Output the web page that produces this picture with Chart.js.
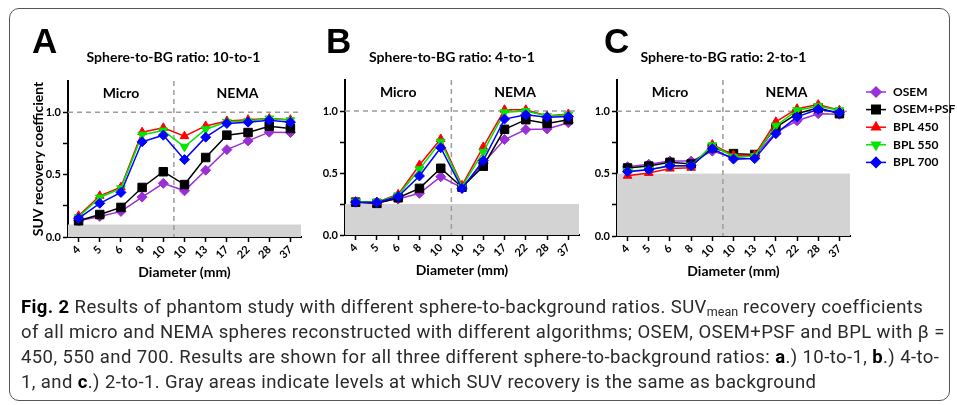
<!DOCTYPE html>
<html>
<head>
<meta charset="utf-8">
<script src="https://cdn.jsdelivr.net/npm/chart.js@4.4.0/dist/chart.umd.min.js"></script>
<style>
  body { margin: 0; background: #fff; width: 957px; height: 405px; overflow: hidden; position: relative; }
  #frame { position: absolute; left: 9px; top: 8px; width: 941px; height: 393px; border: 1.5px solid #555; border-radius: 10px; box-sizing: border-box; }
  canvas.panel { position: absolute; left: 0; top: 0; }
  #caption { position: absolute; left: 21px; top: 295px; font-family: Roboto, 'DejaVu Sans Condensed', sans-serif; font-size: 18.5px; letter-spacing: 0.4px; line-height: 25px; color: #2a2a2a; white-space: nowrap; }
  #caption b { color: #000; }
  #caption sub { font-size: 12.5px; vertical-align: -3px; line-height: 0; letter-spacing: 0; }
</style>
</head>
<body>
<div id="frame"></div>
<canvas id="chartA" class="panel" width="957" height="290"></canvas>
<canvas id="chartB" class="panel" width="957" height="290"></canvas>
<canvas id="chartC" class="panel" width="957" height="290"></canvas>
<div id="caption">
<b>Fig. 2</b> Results of phantom study with different sphere-to-background ratios. SUV<sub>mean</sub> recovery coefficients<br>
of all micro and NEMA spheres reconstructed with different algorithms; OSEM, OSEM+PSF and BPL with β =<br>
450, 550 and 700. Results are shown for all three different sphere-to-background ratios: <b>a</b>.) 10-to-1, <b>b</b>.) 4-to-<br>
1, and <b>c</b>.) 2-to-1. Gray areas indicate levels at which SUV recovery is the same as background
</div>

<script>
// sphere diameters (first five = micro, last six = NEMA)
const diameters = ['4', '5', '6', '8', '10', '10', '13', '17', '22', '28', '37'];
const seriesNames = ['OSEM', 'OSEM+PSF', 'BPL 450', 'BPL 550', 'BPL 700'];

// panel A: 10-to-1
const osemA    = [0.13, 0.165, 0.205, 0.32, 0.43, 0.37, 0.535, 0.70, 0.77, 0.84, 0.837];
const psfA     = [0.13, 0.18, 0.237, 0.397, 0.523, 0.42, 0.637, 0.816, 0.837, 0.888, 0.87];
const bpl450A  = [0.17, 0.33, 0.40, 0.84, 0.875, 0.808, 0.89, 0.93, 0.94, 0.95, 0.94];
const bpl550A  = [0.16, 0.317, 0.39, 0.82, 0.853, 0.723, 0.864, 0.923, 0.93, 0.95, 0.936];
const bpl700A  = [0.15, 0.27, 0.357, 0.763, 0.816, 0.62, 0.80, 0.91, 0.92, 0.936, 0.92];

// panel B: 4-to-1
const osemB    = [0.265, 0.265, 0.29, 0.336, 0.47, 0.38, 0.58, 0.77, 0.85, 0.855, 0.905];
const psfB     = [0.265, 0.255, 0.30, 0.376, 0.538, 0.385, 0.555, 0.852, 0.93, 0.90, 0.93];
const bpl450B  = [0.27, 0.265, 0.328, 0.565, 0.774, 0.40, 0.71, 1.01, 1.01, 0.96, 0.976];
const bpl550B  = [0.27, 0.265, 0.32, 0.53, 0.753, 0.39, 0.67, 0.99, 1.0, 0.96, 0.97];
const bpl700B  = [0.265, 0.262, 0.31, 0.476, 0.704, 0.375, 0.60, 0.935, 0.97, 0.95, 0.955];

// panel C: 2-to-1
const osemC    = [0.555, 0.575, 0.60, 0.60, 0.68, 0.627, 0.643, 0.83, 0.923, 0.98, 0.976];
const psfC     = [0.545, 0.56, 0.59, 0.577, 0.707, 0.66, 0.653, 0.87, 0.98, 1.027, 0.98];
const bpl450C  = [0.483, 0.505, 0.54, 0.547, 0.733, 0.648, 0.648, 0.915, 1.02, 1.053, 1.008];
const bpl550C  = [0.52, 0.53, 0.56, 0.563, 0.727, 0.635, 0.64, 0.883, 1.008, 1.04, 1.008];
const bpl700C  = [0.515, 0.53, 0.563, 0.563, 0.70, 0.616, 0.62, 0.82, 0.955, 1.016, 0.99];

// background levels (gray band) per panel
const bgLevels = [0.1, 0.25, 0.5];
const panelTitles = ['Sphere-to-BG ratio: 10-to-1', 'Sphere-to-BG ratio: 4-to-1', 'Sphere-to-BG ratio: 2-to-1'];
const panelLetters = ['A', 'B', 'C'];
const yTicks = [0, 0.25, 0.5, 0.75, 1.0];

// series look
const colors = ['#9b2fd6', '#000000', '#ff0000', '#00e600', '#0000ff'];
const pointStyles = ['rectRot', 'rect', 'triangle', 'triangle', 'rectRot'];
const pointRotations = [0, 0, 0, 180, 0];
const pointSizes = [5, 6, 5, 5, 5];

const FONT = 'Lato, "Open Sans", sans-serif';

function drawMarker(ctx, i, x, y) {
  const opts = { pointStyle: pointStyles[i], rotation: pointRotations[i], radius: pointSizes[i], borderWidth: 1 };
  ctx.fillStyle = colors[i];
  ctx.strokeStyle = colors[i];
  Chart.helpers.drawPoint(ctx, opts, x, y);
}

// gray band, dashed guides, labels and legend
const decorPlugin = {
  id: 'decor',
  beforeDatasetsDraw(chart, args, opts) {
    const ctx = chart.ctx;
    const a = chart.chartArea;
    const x = chart.scales.x, y = chart.scales.y;
    ctx.save();
    const yb = y.getPixelForValue(opts.bg);
    ctx.fillStyle = '#d3d3d3';
    ctx.fillRect(a.left, yb, a.right - a.left, a.bottom - yb);

    ctx.strokeStyle = '#9c9c9c';
    ctx.lineWidth = 1.5;
    ctx.setLineDash([5, 4]);
    const y1 = y.getPixelForValue(1);
    ctx.beginPath();
    ctx.moveTo(a.left, y1);
    ctx.lineTo(a.right, y1);
    const xd = (x.getPixelForValue(4) + x.getPixelForValue(5)) / 2;
    ctx.moveTo(xd, a.top);
    ctx.lineTo(xd, a.bottom);
    ctx.stroke();
    ctx.restore();
  },
  afterDraw(chart, args, opts) {
    const ctx = chart.ctx;
    const a = chart.chartArea;
    const x = chart.scales.x;
    const xd = (x.getPixelForValue(4) + x.getPixelForValue(5)) / 2;
    ctx.save();
    ctx.fillStyle = '#000';
    ctx.textBaseline = 'middle';
    ctx.textAlign = 'center';
    ctx.font = 'bold 14px ' + FONT;
    ctx.fillText('Micro', (a.left + xd) / 2, a.top + 12);
    ctx.fillText('NEMA', (xd + a.right) / 2, a.top + 12);

    ctx.font = 'bold 14px ' + FONT;
    ctx.fillText(opts.title, (a.left + a.right) / 2 + opts.titleShift, 57);

    ctx.textAlign = 'left';
    ctx.textBaseline = 'alphabetic';
    ctx.font = 'bold 35px "Liberation Sans", Arial, sans-serif';
    ctx.fillText(opts.letter, opts.letterX, 53);

    if (opts.legend) {
      ctx.font = 'bold 12px ' + FONT;
      ctx.textBaseline = 'middle';
      for (let i = 0; i < seriesNames.length; i++) {
        const ly = 92 + i * 17.6;
        ctx.strokeStyle = colors[i];
        ctx.lineWidth = 1.5;
        ctx.beginPath();
        ctx.moveTo(866, ly);
        ctx.lineTo(886, ly);
        ctx.stroke();
        drawMarker(ctx, i, 876, ly);
        ctx.fillStyle = '#000';
        ctx.fillText(seriesNames[i], 893, ly);
      }
    }
    ctx.restore();
  }
};

function makeDatasets(rows) {
  return rows.map((row, i) => ({
    label: seriesNames[i],
    data: row,
    borderColor: colors[i],
    backgroundColor: colors[i],
    borderWidth: 1.5,
    pointStyle: pointStyles[i],
    rotation: pointRotations[i],
    pointRadius: pointSizes[i],
    pointBorderWidth: 1,
    tension: 0,
    order: 5 - i
  }));
}

function makePanel(id, rows, idx, padding, yTitle, letterX, titleShift) {
  return new Chart(document.getElementById(id), {
    type: 'line',
    data: { labels: diameters, datasets: makeDatasets(rows) },
    options: {
      responsive: false,
      animation: false,
      layout: { padding: padding },
      plugins: {
        legend: { display: false },
        tooltip: { enabled: false },
        decor: {
          bg: bgLevels[idx],
          title: panelTitles[idx],
          letter: panelLetters[idx],
          letterX: letterX,
          titleShift: titleShift,
          legend: idx === 2
        }
      },
      scales: {
        x: {
          type: 'category',
          offset: true,
          grid: { offset: false, drawOnChartArea: false, tickLength: 5, tickColor: '#000', tickWidth: 1.5 },
          border: { color: '#000', width: 2 },
          ticks: { autoSkip: false, minRotation: 45, maxRotation: 45, padding: 1, color: '#000', font: { family: FONT, weight: 'bold', size: 11 } },
          title: { display: true, text: 'Diameter (mm)', color: '#000', font: { family: FONT, weight: 'bold', size: 14 }, padding: { top: 0, bottom: 3 } },
          afterFit: s => { s.height = 47; }
        },
        y: {
          min: 0,
          max: 1.25,
          afterBuildTicks: s => { s.ticks = yTicks.map(v => ({ value: v })); },
          grid: { drawOnChartArea: false, tickLength: 5, tickColor: '#000', tickWidth: 1.5 },
          border: { color: '#000', width: 2 },
          ticks: {
            padding: 2,
            color: '#000',
            font: { family: FONT, weight: 'bold', size: 11 },
            callback: v => (v % 0.5 === 0 ? v.toFixed(1) : '')
          },
          title: { display: yTitle, text: 'SUV recovery coefficient', color: '#000', font: { family: FONT, weight: 'bold', size: 14 }, padding: { top: 4, bottom: 0 } },
          afterFit: s => { s.width = 42; }
        }
      }
    },
    plugins: [decorPlugin]
  });
}

makePanel('chartA', [osemA, psfA, bpl450A, bpl550A, bpl700A], 0, { left: 26, right: 656, top: 81, bottom: 6 }, true, 32, -11);
makePanel('chartB', [osemB, psfB, bpl450B, bpl550B, bpl700B], 1, { left: 303, right: 378, top: 80, bottom: 8 }, false, 326, -10);
makePanel('chartC', [osemC, psfC, bpl450C, bpl550C, bpl700C], 2, { left: 575, right: 107, top: 80, bottom: 7 }, false, 604, -10);
</script>
</body>
</html>
